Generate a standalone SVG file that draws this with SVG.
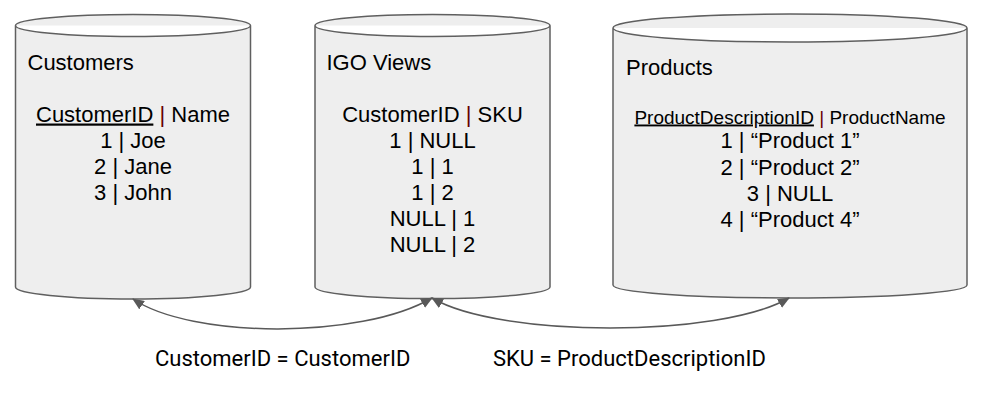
<svg xmlns="http://www.w3.org/2000/svg" width="982" height="406" viewBox="0 0 982 406">
<defs>
<style>
.cyl{fill:#eeeeee;stroke:#5f5f5f;stroke-width:1.5}
.t{font-family:"Liberation Sans",Arial,sans-serif;font-size:22px;fill:#000}
.c{text-anchor:middle}
.h{font-size:19px}
.p{fill:#660000}
.u{text-decoration:underline}
.lbl{font-family:Roboto,"Liberation Sans",sans-serif;font-size:22px;fill:#000}
.con{fill:none;stroke:#595959;stroke-width:1.5}
</style>
<marker id="ah" viewBox="0 0 12 10" refX="11" refY="5" markerWidth="12" markerHeight="10" markerUnits="userSpaceOnUse" orient="auto-start-reverse">
<path d="M0,0 L12,5 L0,10 Z" fill="#595959"/>
</marker>
</defs>
<g id="customers">
<path class="cyl" d="M15.5,25.5 A117.5,11 0 0 1 250.5,25.5 V287 A117.5,12 0 0 1 15.5,287 Z M15.5,25.5 A117.5,11 0 0 0 250.5,25.5"/>
<text class="t" x="27.5" y="69.5">Customers</text>
<text class="t c" x="133" y="121.5"><tspan class="u">CustomerID</tspan> <tspan class="p">|</tspan> Name</text>
<text class="t c" x="133" y="147.5">1 | Joe</text>
<text class="t c" x="133" y="173.5">2 | Jane</text>
<text class="t c" x="133" y="199.5">3 | John</text>
</g>
<g id="igo-views">
<path class="cyl" d="M315,25.5 A117.5,11 0 0 1 550,25.5 V287 A117.5,11.5 0 0 1 315,287 Z M315,25.5 A117.5,11 0 0 0 550,25.5"/>
<text class="t" x="326.5" y="69.5">IGO Views</text>
<text class="t c" x="432.5" y="121.5">CustomerID <tspan class="p">|</tspan> SKU</text>
<text class="t c" x="432.5" y="147.5">1 | NULL</text>
<text class="t c" x="432.5" y="173.5">1 | 1</text>
<text class="t c" x="432.5" y="199.5">1 | 2</text>
<text class="t c" x="432.5" y="225.5">NULL | 1</text>
<text class="t c" x="432.5" y="251.5">NULL | 2</text>
</g>
<g id="products">
<path class="cyl" d="M613,28 A177,14 0 0 1 967,28 V285 A177,13 0 0 1 613,285 Z M613,28 A177,14 0 0 0 967,28"/>
<text class="t" x="626" y="74.5">Products</text>
<text class="t c h" x="790" y="123.5"><tspan class="u">ProductDescriptionID</tspan> <tspan class="p">|</tspan> ProductName</text>
<text class="t c" x="790" y="148">1 | “Product 1”</text>
<text class="t c" x="790" y="174.5">2 | “Product 2”</text>
<text class="t c" x="790" y="200.5">3 | NULL</text>
<text class="t c" x="790" y="226.5">4 | “Product 4”</text>
</g>
<g id="connectors">
<path class="con" d="M133,299 C190,338 360,340 432,298" marker-start="url(#ah)" marker-end="url(#ah)"/>
<path class="con" d="M432,298 C500,338 720,338 789,298" marker-start="url(#ah)" marker-end="url(#ah)"/>
<text class="lbl" x="155" y="366">CustomerID = CustomerID</text>
<text class="lbl" x="493" y="366">SKU = ProductDescriptionID</text>
</g>
</svg>
